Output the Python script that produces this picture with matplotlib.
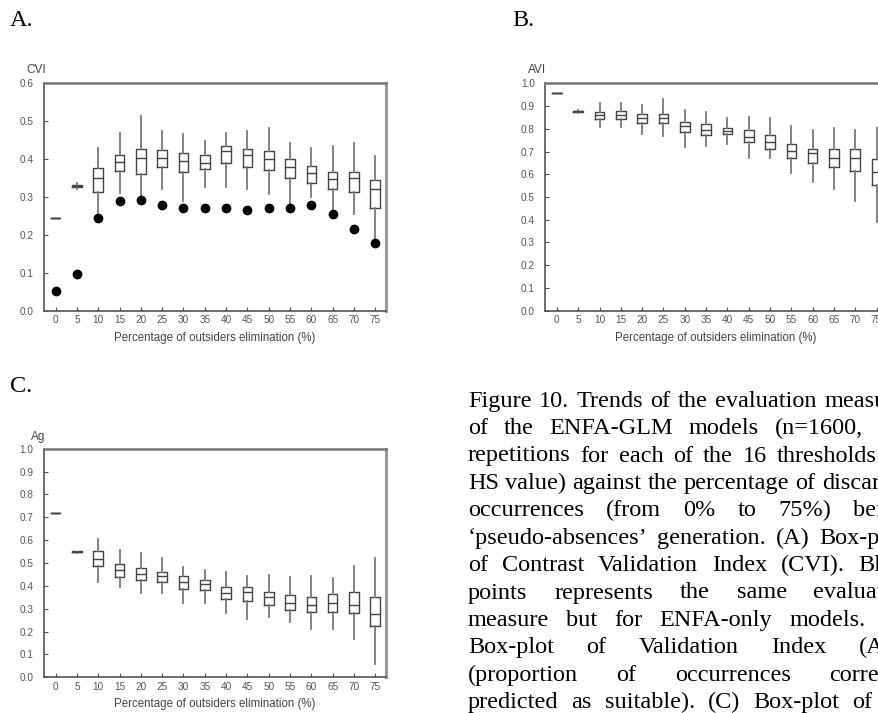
import matplotlib
matplotlib.use("Agg")
import matplotlib.pyplot as plt

# x categories: percentage of outsiders elimination
pct = [0, 5, 10, 15, 20, 25, 30, 35, 40, 45, 50, 55, 60, 65, 70, 75]

# A. CVI box-plots (ENFA-GLM) + black dots (ENFA-only)
cvi_whishi = [0.245, 0.336, 0.428, 0.469, 0.515, 0.473, 0.466, 0.449, 0.468, 0.475, 0.482, 0.442, 0.428, 0.434, 0.442, 0.409]
cvi_q3 = [0.245, 0.331, 0.376, 0.412, 0.426, 0.424, 0.416, 0.411, 0.435, 0.426, 0.422, 0.400, 0.382, 0.367, 0.367, 0.345]
cvi_med = [0.245, 0.329, 0.349, 0.393, 0.404, 0.404, 0.395, 0.391, 0.422, 0.410, 0.400, 0.378, 0.364, 0.347, 0.349, 0.320]
cvi_q1 = [0.245, 0.327, 0.314, 0.369, 0.362, 0.379, 0.366, 0.375, 0.391, 0.378, 0.371, 0.351, 0.338, 0.320, 0.313, 0.271]
cvi_whislo = [0.245, 0.322, 0.245, 0.311, 0.298, 0.320, 0.289, 0.326, 0.326, 0.320, 0.307, 0.271, 0.300, 0.258, 0.254, 0.187]
cvi_enfa = [0.051, 0.098, 0.245, 0.289, 0.293, 0.280, 0.271, 0.271, 0.271, 0.267, 0.270, 0.271, 0.280, 0.254, 0.215, 0.178]

# B. AVI box-plots
avi_whishi = [0.959, 0.884, 0.915, 0.915, 0.903, 0.929, 0.884, 0.874, 0.847, 0.851, 0.847, 0.812, 0.793, 0.803, 0.793, 0.803]
avi_q3 = [0.959, 0.877, 0.874, 0.876, 0.863, 0.866, 0.829, 0.819, 0.804, 0.793, 0.774, 0.734, 0.712, 0.712, 0.712, 0.668]
avi_med = [0.959, 0.876, 0.862, 0.859, 0.847, 0.847, 0.812, 0.796, 0.790, 0.763, 0.741, 0.704, 0.694, 0.672, 0.672, 0.609]
avi_q1 = [0.959, 0.875, 0.844, 0.844, 0.826, 0.825, 0.785, 0.774, 0.775, 0.741, 0.712, 0.671, 0.649, 0.631, 0.616, 0.554]
avi_whislo = [0.959, 0.868, 0.807, 0.807, 0.778, 0.768, 0.722, 0.726, 0.734, 0.672, 0.672, 0.606, 0.568, 0.535, 0.484, 0.391]

# C. Ag box-plots
ag_whishi = [0.718, 0.553, 0.603, 0.556, 0.544, 0.522, 0.482, 0.471, 0.460, 0.441, 0.449, 0.438, 0.444, 0.434, 0.485, 0.522]
ag_q3 = [0.718, 0.552, 0.551, 0.497, 0.478, 0.460, 0.441, 0.426, 0.394, 0.397, 0.375, 0.360, 0.353, 0.365, 0.375, 0.353]
ag_med = [0.718, 0.549, 0.519, 0.471, 0.453, 0.441, 0.416, 0.407, 0.368, 0.375, 0.353, 0.324, 0.316, 0.324, 0.316, 0.276]
ag_q1 = [0.718, 0.546, 0.485, 0.437, 0.426, 0.419, 0.385, 0.382, 0.343, 0.335, 0.316, 0.294, 0.287, 0.287, 0.282, 0.225]
ag_whislo = [0.718, 0.543, 0.415, 0.394, 0.368, 0.368, 0.326, 0.324, 0.282, 0.257, 0.262, 0.243, 0.213, 0.213, 0.169, 0.056]

caption = [
    "Figure 10. Trends of the evaluation measures",
    "of the ENFA-GLM models (n=1600, 100",
    "repetitions for each of the 16 thresholds (of",
    "HS value) against the percentage of discarded",
    "occurrences (from 0% to 75%) before",
    "\u2018pseudo-absences\u2019 generation. (A) Box-plots",
    "of Contrast Validation Index (CVI). Black",
    "points represents the same evaluation",
    "measure but for ENFA-only models. (B)",
    "Box-plot of Validation Index (AVI)",
    "(proportion of occurrences correctly",
    "predicted as suitable). (C) Box-plot of Ag",
]

W, H = 879, 713
fig = plt.figure(figsize=(W / 100, H / 100), dpi=100)
fig.patch.set_facecolor("white")

sans = "Liberation Sans"
serif = "Liberation Serif"
grey = "#555555"


def panel(rect, lo, q1, med, q3, hi, ymax, yticks):
    ax = fig.add_axes(rect)
    pos = list(range(len(pct)))
    stats = [dict(whislo=lo[i], q1=q1[i], med=med[i], q3=q3[i], whishi=hi[i]) for i in pos]
    ax.bxp(stats, positions=pos, widths=0.45, showfliers=False, showcaps=False,
           boxprops=dict(color="#444444", linewidth=1.0),
           whiskerprops=dict(color="#7a7a7a", linewidth=1.3),
           medianprops=dict(color="#444444", linewidth=1.0))
    ax.set_xlim(-0.56, 15.49)
    ax.set_ylim(0, ymax)
    ax.set_xticks(pos)
    ax.set_xticklabels([str(p) for p in pct])
    ax.set_yticks(yticks)
    ax.set_yticklabels(["%.1f" % t for t in yticks])
    ax.tick_params(direction="in", length=3, width=0.8, color=grey, labelcolor=grey, labelsize=7.2)
    ax.tick_params(axis="y", pad=7.3)
    ax.tick_params(axis="x", pad=3.3)
    for lab in ax.get_xticklabels() + ax.get_yticklabels():
        lab.set_family(sans)
    ax.spines["left"].set_color("#555555")
    ax.spines["bottom"].set_color("#555555")
    ax.spines["left"].set_linewidth(1.2)
    ax.spines["bottom"].set_linewidth(1.2)
    ax.spines["top"].set_color("#777777")
    ax.spines["right"].set_color("#999999")
    ax.spines["top"].set_linewidth(1.8)
    ax.spines["right"].set_linewidth(2.2)
    ax.set_xlabel("Percentage of outsiders elimination (%)", fontsize=8.3, family=sans,
                  color="#444444", labelpad=4.5)
    return ax


aw, ah = 342 / W, 227.4 / H
axA = panel([43.7 / W, 1 - 310.7 / H, aw, ah], cvi_whislo, cvi_q1, cvi_med, cvi_q3, cvi_whishi,
            0.6, [0.0, 0.1, 0.2, 0.3, 0.4, 0.5, 0.6])
axA.plot(range(len(pct)), cvi_enfa, "o", color="black", markersize=6, zorder=5)

axB = panel([545 / W, 1 - 310.7 / H, aw, ah], avi_whislo, avi_q1, avi_med, avi_q3, avi_whishi,
            1.0, [i / 10 for i in range(11)])

axC = panel([43.7 / W, 1 - 677.3 / H, aw, 228.6 / H], ag_whislo, ag_q1, ag_med, ag_q3, ag_whishi,
            1.0, [i / 10 for i in range(11)])

# y-axis names above the axes
fig.text(26 / W, 1 - 70 / H, "CVI", fontsize=8.5, family=sans, color="#444444", va="center")
fig.text(528 / W, 1 - 70 / H, "AVI", fontsize=8.5, family=sans, color="#444444", va="center")
fig.text(31 / W, 1 - 436.7 / H, "Ag", fontsize=8.5, family=sans, color="#444444", va="center")

# panel letters
fig.text(10 / W, 1 - 20 / H, "A.", fontsize=17.5, family=serif, va="center")
fig.text(512 / W, 1 - 20 / H, "B.", fontsize=17.5, family=serif, va="center")
fig.text(10 / W, 1 - 386.5 / H, "C.", fontsize=17.5, family=serif, va="center")

# justified caption (runs past the right edge, as in the page crop)
renderer = fig.canvas.get_renderer()
x0, x1 = 468, 915
for k, line in enumerate(caption):
    y = 1 - (406.7 + 27.4 * k) / H
    words = line.split(" ")
    texts = [fig.text(0, y, w, fontsize=17.5, family=serif, va="baseline") for w in words]
    widths = [t.get_window_extent(renderer).width for t in texts]
    gap = (x1 - x0 - sum(widths)) / (len(words) - 1)
    x = x0
    for t, wd in zip(texts, widths):
        t.set_x(x / W)
        x += wd + gap

fig.savefig("out.png", dpi=100)
